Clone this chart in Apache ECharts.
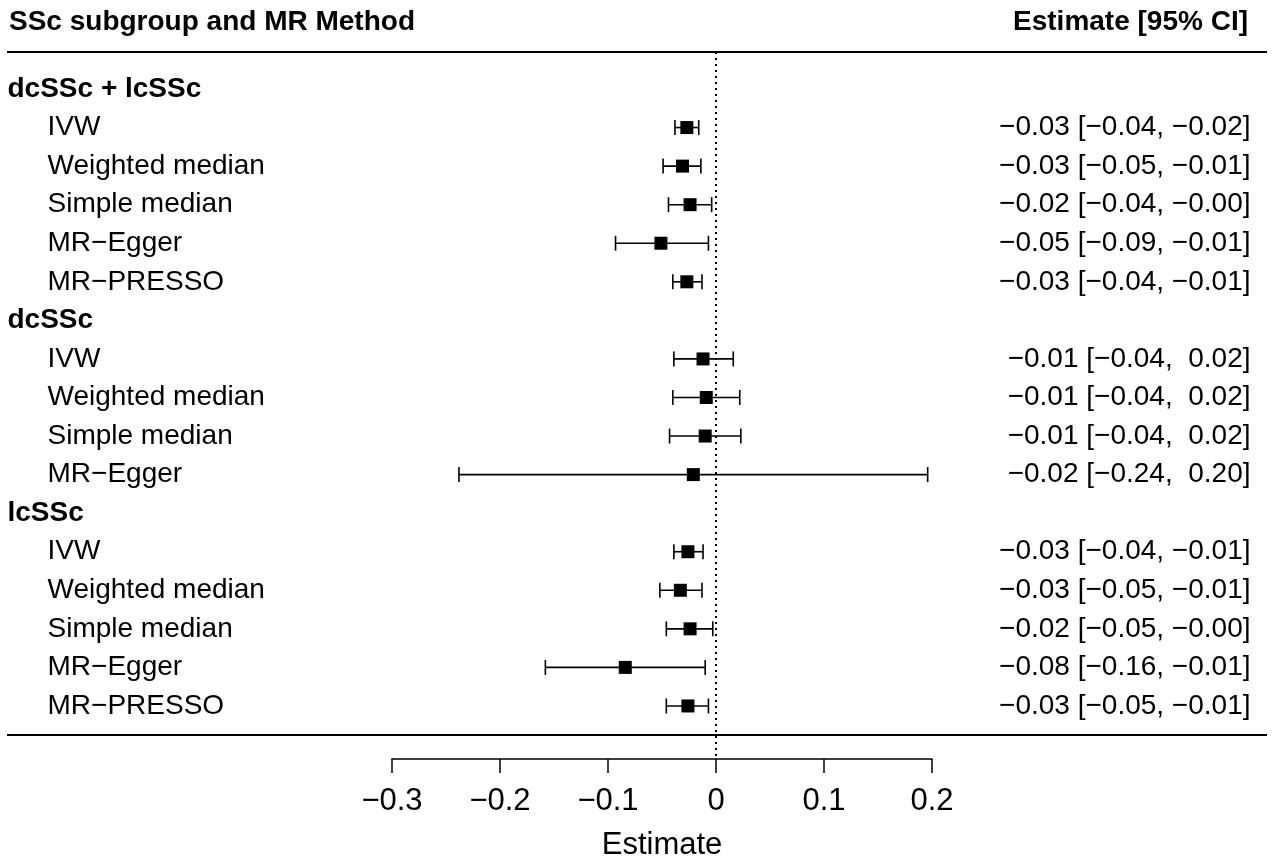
<!DOCTYPE html>
<html>
<head>
<meta charset="utf-8">
<script src="https://cdn.jsdelivr.net/npm/echarts@6/dist/echarts.min.js"></script>
<style>
  html, body { margin: 0; background: #fff; }
  #chart { width: 1280px; height: 860px; }
</style>
</head>
<body>
<div id="chart"></div>
<script>
    // data
    var groupNames = ['dcSSc + lcSSc', 'dcSSc', 'lcSSc'];
    var groupMethods = [
        ['IVW', 'Weighted median', 'Simple median', 'MR\u2212Egger', 'MR\u2212PRESSO'],
        ['IVW', 'Weighted median', 'Simple median', 'MR\u2212Egger'],
        ['IVW', 'Weighted median', 'Simple median', 'MR\u2212Egger', 'MR\u2212PRESSO']
    ];
    var estimate = [
        [-0.027, -0.031, -0.024, -0.051, -0.027],
        [-0.012, -0.009, -0.010, -0.021],
        [-0.026, -0.033, -0.024, -0.084, -0.026]
    ];
    var lower = [
        [-0.038, -0.049, -0.044, -0.093, -0.040],
        [-0.039, -0.040, -0.043, -0.238],
        [-0.039, -0.052, -0.046, -0.158, -0.046]
    ];
    var upper = [
        [-0.016, -0.014, -0.004, -0.007, -0.013],
        [0.016, 0.022, 0.023, 0.196],
        [-0.012, -0.013, -0.003, -0.010, -0.007]
    ];
    var xMin = -0.3, xMax = 0.2, xStep = 0.1;

    var FONT = '"Liberation Sans", Helvetica, Arial, sans-serif';
    var rowTop = 89, rowStep = 38.56;   // pixel layout of the table rows

    // R style: unicode minus, positive numbers padded with a space
    function num(v) {
        return (v < 0 ? '\u2212' : ' ') + Math.abs(v).toFixed(2);
    }

    var groupRows = [], methodRows = [], ciRows = [], barData = [];
    var r = 0;
    groupNames.forEach(function (g, gi) {
        groupRows.push([xMin, r, g]);
        r++;
        groupMethods[gi].forEach(function (m, mi) {
            var e = estimate[gi][mi], lo = lower[gi][mi], hi = upper[gi][mi];
            methodRows.push([xMin, r, m]);
            ciRows.push([xMax, r, num(e).trim() + ' [' + num(lo).trim() + ', ' + num(hi) + ']']);
            barData.push([e, lo, hi, r]);
            r++;
        });
    });

    var chart = echarts.init(document.getElementById('chart'));

    var hidden = { color: 'rgba(0,0,0,0)', opacity: 1 };

    var option = {
        animation: false,
        grid: { left: 392, right: 348, top: 52, bottom: 101, outerBoundsMode: 'none', containLabel: false },
        xAxis: {
            type: 'value',
            min: xMin, max: xMax, interval: xStep,
            position: 'bottom',
            splitLine: { show: false },
            axisLine: { show: true, onZero: false, lineStyle: { color: '#000', width: 1.5 } },
            axisTick: { show: true, length: 14, lineStyle: { color: '#000', width: 1.5 } },
            axisLabel: {
                color: '#000', fontFamily: FONT, fontSize: 31, margin: 27,
                formatter: function (v) {
                    if (Math.abs(v) < 1e-9) return '0';
                    return (v < 0 ? '\u2212' : '') + Math.abs(v).toFixed(1);
                }
            },
            name: 'Estimate',
            nameLocation: 'middle',
            nameGap: 71,
            nameTextStyle: { color: '#000', fontFamily: FONT, fontSize: 31 }
        },
        yAxis: {
            type: 'value',
            inverse: true,
            show: false,
            min: (52 - rowTop) / rowStep,
            max: (759 - rowTop) / rowStep
        },
        graphic: [
            { type: 'text', x: 9, y: 22, style: { text: 'SSc subgroup and MR Method', font: 'bold 28px ' + FONT, fill: '#000', align: 'left', verticalAlign: 'middle' } },
            { type: 'text', x: 1248, y: 22, style: { text: 'Estimate [95% CI]', font: 'bold 28px ' + FONT, fill: '#000', align: 'right', verticalAlign: 'middle' } },
            { type: 'line', shape: { x1: 7, y1: 52, x2: 1267, y2: 52 }, style: { stroke: '#000', lineWidth: 2 } },
            { type: 'line', shape: { x1: 7, y1: 735, x2: 1267, y2: 735 }, style: { stroke: '#000', lineWidth: 2 } }
        ],
        series: [
            {
                name: 'groups',
                type: 'scatter',
                symbolSize: 1,
                itemStyle: hidden,
                data: groupRows,
                label: {
                    show: true, position: 'left', distance: 384, align: 'left', verticalAlign: 'middle',
                    color: '#000', fontFamily: FONT, fontWeight: 'bold', fontSize: 28,
                    formatter: function (p) { return p.data[2]; }
                }
            },
            {
                name: 'methods',
                type: 'scatter',
                symbolSize: 1,
                itemStyle: hidden,
                data: methodRows,
                label: {
                    show: true, position: 'left', distance: 344, align: 'left', verticalAlign: 'middle',
                    color: '#000', fontFamily: FONT, fontSize: 28,
                    formatter: function (p) { return p.data[2]; }
                },
                markLine: {
                    silent: true,
                    symbol: 'none',
                    label: { show: false },
                    lineStyle: { color: '#000', width: 2, type: [2, 4], opacity: 1 },
                    data: [{ xAxis: 0 }]
                }
            },
            {
                name: 'ci',
                type: 'scatter',
                symbolSize: 1,
                itemStyle: hidden,
                data: ciRows,
                label: {
                    show: true, position: 'right', distance: 318, align: 'right', verticalAlign: 'middle',
                    color: '#000', fontFamily: FONT, fontSize: 28,
                    formatter: function (p) { return p.data[2]; }
                }
            },
            {
                name: 'estimates',
                type: 'custom',
                data: barData,
                encode: { x: [0, 1, 2], y: 3 },
                renderItem: function (params, api) {
                    var row = api.value(3);
                    var a = api.coord([api.value(1), row]);
                    var b = api.coord([api.value(2), row]);
                    var c = api.coord([api.value(0), row]);
                    var cap = 7.5, half = 6.5;
                    var st = { stroke: '#000', lineWidth: 1.6 };
                    return {
                        type: 'group',
                        children: [
                            { type: 'line', shape: { x1: a[0], y1: a[1], x2: b[0], y2: b[1] }, style: st },
                            { type: 'line', shape: { x1: a[0], y1: a[1] - cap, x2: a[0], y2: a[1] + cap }, style: st },
                            { type: 'line', shape: { x1: b[0], y1: b[1] - cap, x2: b[0], y2: b[1] + cap }, style: st },
                            { type: 'rect', shape: { x: c[0] - half, y: c[1] - half, width: half * 2, height: half * 2 }, style: { fill: '#000' } }
                        ]
                    };
                }
            }
        ]
    };

    chart.setOption(option);
</script>
</body>
</html>
